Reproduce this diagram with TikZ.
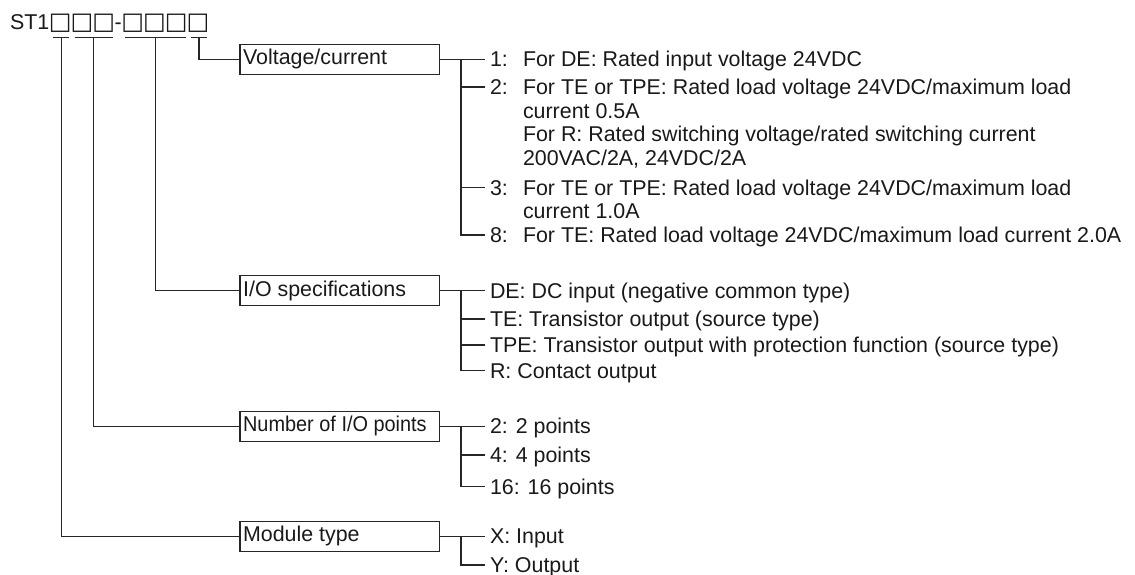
\documentclass[tikz,border=0pt]{standalone}
\usepackage{fontspec}
\setmainfont{Liberation Sans}
\newfontfamily\sqfont{DejaVu Sans}
\usetikzlibrary{calc}
\newcommand{\sqbox}{\makebox[21.8pt][c]{\fontsize{24}{24}\sqfont □}}
\newcommand{\boxlabel}[1]{\makebox[193pt][l]{#1}}
\tikzset{
  ln/.style={line width=1.2pt, draw=black!85},
  catbox/.style={draw=black!85, line width=1.2pt, rectangle, minimum width=199.4pt,
    minimum height=30pt, inner xsep=3pt, inner ysep=0pt, anchor=west},
  item/.style={anchor=west, inner xsep=5pt, inner ysep=0pt, outer sep=0pt,
    text height=15.3pt, text depth=0pt},
  desc/.style={anchor=base west, inner sep=0pt, outer sep=0pt},
  codepart/.style={anchor=base west, inner sep=0pt, outer sep=0pt},
}
\begin{document}
\begin{tikzpicture}[x=1pt,y=-1pt,
  every node/.style={font=\fontsize{21.4}{23.6}\selectfont, text=black!90}]
\useasboundingbox (0,0) rectangle (1135,575);
% code string
\node[codepart] (st) at (10,29.5) {ST1};
\node[codepart] (g1) at (st.base east) {\sqbox};
\node[codepart] (g2) at (g1.base east) {\sqbox\sqbox};
\node[codepart] (dash) at (g2.base east) {-};
\node[codepart] (g3) at (dash.base east) {\sqbox\sqbox\sqbox};
\node[codepart] (g4) at (g3.base east) {\sqbox};
\foreach \g in {g1,g2,g3,g4}{
  \draw[ln] ($(\g.base west)+(3.6,7.8)$) -- ($(\g.base east)+(-1.6,7.8)$);
  \coordinate (u\g) at ($(\g.base)+(1,7.8)$);
}
% category boxes
\node[catbox] (vc) at (239.3,59.3) {\boxlabel{Voltage/current}};
\node[catbox] (io) at (239.3,290.5) {\boxlabel{I/O specifications}};
\node[catbox] (np) at (239.3,426.2) {\boxlabel{\scalebox{0.93}[1]{Number of I/O points}}};
\node[catbox] (mt) at (239.3,536.3) {\boxlabel{Module type}};
\draw[ln] (ug4) |- (vc.west);
\draw[ln] (ug3) |- (io.west);
\draw[ln] (ug2) |- (np.west);
\draw[ln] (ug1) |- (mt.west);
\coordinate (bx) at (461,0);
\coordinate (dx) at (523,0);
% voltage/current items
\node[item] (v1) at (485,59.3) {1:};
\node[item] (v2) at (485,87) {2:};
\node[item] (v3) at (485,187.5) {3:};
\node[item] (v8) at (485,235) {8:};
\node[desc] (v1t) at (v1.base -| dx) {For DE: Rated input voltage 24VDC};
\node[desc] (v2t) at (v2.base -| dx) {\begin{tabular}[t]{@{}l@{}}For TE or TPE: Rated load voltage 24VDC/maximum load\\current 0.5A\\For R: Rated switching voltage/rated switching current\\200VAC/2A, 24VDC/2A\end{tabular}};
\node[desc] (v3t) at (v3.base -| dx) {\begin{tabular}[t]{@{}l@{}}For TE or TPE: Rated load voltage 24VDC/maximum load\\current 1.0A\end{tabular}};
\node[desc] (v8t) at (v8.base -| dx) {For TE: Rated load voltage 24VDC/maximum load current 2.0A};
\draw[ln] (vc.east) -- (v1.west);
\draw[ln] (bx |- v1.west) -- (bx |- v8.west) -- (v8.west);
\draw[ln] (bx |- v2.west) -- (v2.west);
\draw[ln] (bx |- v3.west) -- (v3.west);
% I/O specification items
\node[item] (d1) at (485,290.5) {DE: DC input (negative common type)};
\node[item] (d2) at (485,319) {TE: Transistor output (source type)};
\node[item] (d3) at (485,345) {TPE: Transistor output with protection function (source type)};
\node[item] (d4) at (485,370.7) {R: Contact output};
\draw[ln] (io.east) -- (d1.west);
\draw[ln] (bx |- d1.west) -- (bx |- d4.west) -- (d4.west);
\draw[ln] (bx |- d2.west) -- (d2.west);
\draw[ln] (bx |- d3.west) -- (d3.west);
% number of points
\node[item] (n1) at (485,426.2) {2: 2 points};
\node[item] (n2) at (485,455) {4: 4 points};
\node[item] (n3) at (485,486.7) {16: 16 points};
\draw[ln] (np.east) -- (n1.west);
\draw[ln] (bx |- n1.west) -- (bx |- n3.west) -- (n3.west);
\draw[ln] (bx |- n2.west) -- (n2.west);
% module type
\node[item] (m1) at (485,536.3) {X: Input};
\node[item] (m2) at (485,565) {Y: Output};
\draw[ln] (mt.east) -- (m1.west);
\draw[ln] (bx |- m1.west) -- (bx |- m2.west) -- (m2.west);
\end{tikzpicture}
\end{document}
